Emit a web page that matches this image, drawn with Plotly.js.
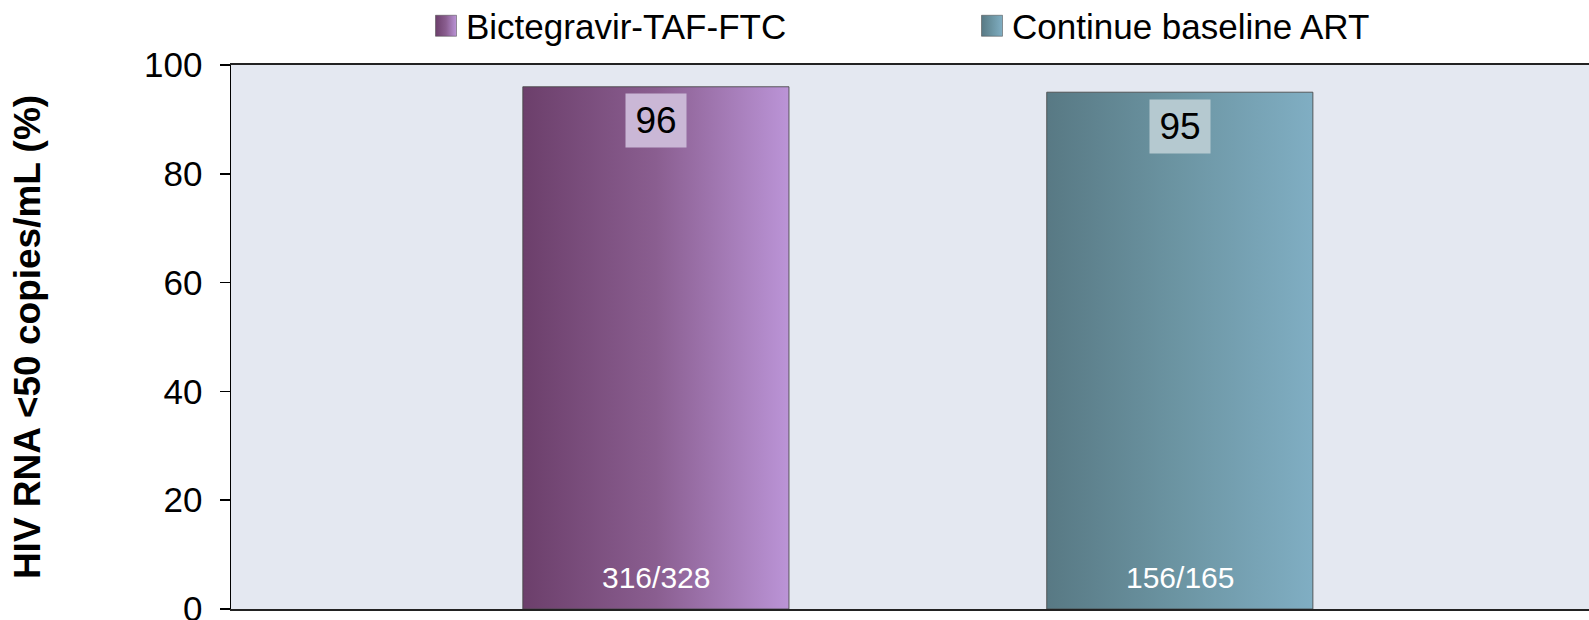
<!DOCTYPE html>
<html>
<head>
<meta charset="utf-8">
<script src="https://cdn.plot.ly/plotly-3.0.1.min.js"></script>
<style>
  html, body { margin: 0; padding: 0; background: #ffffff; overflow: hidden; }
  #chart { width: 1589px; height: 620px; }
</style>
</head>
<body>
<div id="chart"></div>
<script>
// ---- data ----
const groups = ['Bictegravir-TAF-FTC', 'Continue baseline ART'];
const pct = [96, 95];
const counts = ['316/328', '156/165'];
const yTicks = [0, 20, 40, 60, 80, 100];
const yTitle = 'HIV RNA <50 copies/mL (%)';

// ---- styles ----
const baseColors = ['#9468A3', '#6B96A6'];
const gradStops = [
  ['#6C3F6B', '#8A5E90', '#BB94D7'],
  ['#587984', '#6C95A3', '#80AEC3']
];
const boxColors = ['#CAB7D6', '#B5C9D0'];
const FONT = '"Liberation Sans", Arial, Helvetica, sans-serif';

const traces = groups.map((g, i) => ({
  type: 'bar',
  name: g,
  x: [g],
  y: [pct[i]],
  width: 0.508,
  marker: { color: baseColors[i], line: { color: 'rgba(70,70,70,0.85)', width: 1 } },
  legend: i === 0 ? 'legend' : 'legend2',
  hoverinfo: 'skip'
}));

const annotations = [];
groups.forEach((g, i) => {
  annotations.push({
    x: g, y: pct[i], xref: 'x', yref: 'y',
    text: String(pct[i]), showarrow: false,
    yanchor: 'middle', yshift: -34,
    width: 58, height: 51, bgcolor: boxColors[i],
    font: { family: FONT, size: 37, color: '#000000' }
  });
  annotations.push({
    x: g, y: 0, xref: 'x', yref: 'y',
    text: counts[i], showarrow: false,
    yanchor: 'middle', yshift: 32,
    font: { family: FONT, size: 30, color: '#ffffff' }
  });
});

const legendCommon = {
  orientation: 'h',
  xref: 'container', yref: 'container',
  yanchor: 'middle',
  bgcolor: 'rgba(0,0,0,0)',
  font: { family: FONT, size: 35, color: '#000000' },
  itemclick: false, itemdoubleclick: false
};

const layout = {
  width: 1589, height: 620,
  paper_bgcolor: '#ffffff',
  plot_bgcolor: '#E4E8F1',
  margin: { l: 231, r: 0, t: 65, b: 11, pad: 0 },
  barmode: 'overlay',
  showlegend: true,
  legend: Object.assign({}, legendCommon, { x: 426 / 1589, y: 1 - 26 / 620 }),
  legend2: Object.assign({}, legendCommon, { x: 972 / 1589, y: 1 - 26 / 620 }),
  xaxis: {
    type: 'category',
    range: [-0.811, 1.781],
    showticklabels: false,
    ticks: '',
    showgrid: false,
    zeroline: false,
    showline: true,
    mirror: true,
    linecolor: '#222222',
    linewidth: 2,
    fixedrange: true
  },
  yaxis: {
    range: [0, 100],
    tickvals: yTicks,
    ticktext: yTicks.map(String),
    ticks: 'outside',
    ticklen: 10,
    tickwidth: 1.5,
    tickcolor: '#000000',
    ticklabelstandoff: 10,
    ticklabeloverflow: 'allow',
    tickfont: { family: FONT, size: 35, color: '#000000' },
    showgrid: false,
    zeroline: false,
    showline: true,
    linecolor: '#000000',
    linewidth: 1.5,
    fixedrange: true,
    title: {
      text: yTitle,
      standoff: 92,
      font: { family: FONT, size: 37, color: '#000000', weight: 'bold' }
    }
  },
  annotations: annotations
};

function applyGradients(gd) {
  const svg = gd.querySelector('svg.main-svg');
  if (!svg) return;
  const ns = 'http://www.w3.org/2000/svg';
  let defs = svg.querySelector('defs');
  if (!defs) { defs = document.createElementNS(ns, 'defs'); svg.insertBefore(defs, svg.firstChild); }
  gradStops.forEach((stops, i) => {
    const lg = document.createElementNS(ns, 'linearGradient');
    lg.setAttribute('id', 'bargrad' + i);
    lg.setAttribute('x1', '0'); lg.setAttribute('y1', '0');
    lg.setAttribute('x2', '1'); lg.setAttribute('y2', '0');
    stops.forEach((c, k) => {
      const st = document.createElementNS(ns, 'stop');
      st.setAttribute('offset', String(k / (stops.length - 1)));
      st.setAttribute('stop-color', c);
      lg.appendChild(st);
    });
    defs.appendChild(lg);
  });
  gd.querySelectorAll('.barlayer .trace').forEach((t, i) => {
    t.querySelectorAll('path').forEach(p => { p.style.fill = 'url(#bargrad' + i + ')'; });
  });
  // enlarge legend squares and give them the gradient
  gd.querySelectorAll('g.traces').forEach((tg, idx) => {
    const txt = (tg.textContent || '').trim();
    let i = groups.indexOf(txt);
    if (i < 0) i = idx;
    tg.querySelectorAll('.legendpoints path').forEach(p => {
      p.setAttribute('d', 'M10.5,10.5H-10.5V-10.5H10.5Z');
      p.style.fill = 'url(#bargrad' + i + ')';
      p.style.stroke = 'rgba(70,70,70,0.6)';
      p.style.strokeWidth = '1px';
    });
  });
}

Plotly.newPlot('chart', traces, layout, { displayModeBar: false, staticPlot: true })
  .then(gd => applyGradients(gd));
</script>
</body>
</html>
